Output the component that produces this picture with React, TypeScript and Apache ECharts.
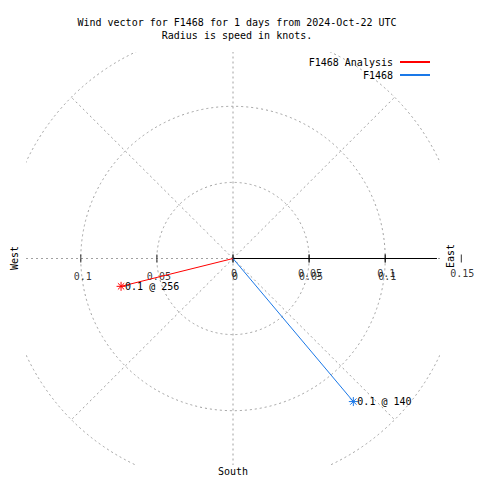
import React, { useEffect, useRef } from "react";
import * as echarts from "echarts";

// ---- data ----
const TITLE_LINES = [
  "Wind vector for F1468 for 1 days from 2024-Oct-22 UTC",
  "Radius is speed in knots.",
];
const SERIES_NAMES = ["F1468 Analysis", "F1468"];
const SERIES_COLORS = ["#ff0000", "#1a78e8"];
const SPEEDS = [0.0758, 0.123]; // knots
const BEARINGS = [256, 140]; // degrees clockwise from north
const RINGS = [0.05, 0.1, 0.15];
const SPOKES = [0, 45, 90, 135, 180, 225, 270, 315];
const GRID_TICKS = [-0.1, -0.05, 0, 0.05, 0.1];
const RADIAL_TICKS = [0, 0.05, 0.1, 0.15];
const RADIAL_AXIS_END = 0.134;
const VIEW_LIMIT = 0.136;
const COMPASS = { west: "West", east: "East", south: "South" };

const FONT = "DejaVu Sans Mono";
const GRAY = "#a0a0a0";

const rad = (d: number) => (d * Math.PI) / 180;

export default function App() {
  const ref = useRef<HTMLDivElement>(null);
  useEffect(() => {
    if (!ref.current) return;
    const chart = echarts.init(ref.current, undefined, { renderer: "svg" });

    const vectorSeries = SERIES_NAMES.map((name, i) => {
      const s = SPEEDS[i];
      const b = BEARINGS[i];
      const end = [s * Math.sin(rad(b)), s * Math.cos(rad(b))];
      return {
        name,
        type: "line",
        z: 5,
        color: SERIES_COLORS[i],
        lineStyle: { color: SERIES_COLORS[i], width: 1 },
        showSymbol: true,
        symbol:
          "path://M0,5L10,5M5,0L5,10M1.5,1.5L8.5,8.5M8.5,1.5L1.5,8.5",
        symbolSize: 9,
        itemStyle: {
          color: "none",
          borderColor: SERIES_COLORS[i],
          borderWidth: 1,
        },
        data: [
          { value: [0, 0], symbol: "none" },
          {
            value: end,
            label: {
              show: true,
              position: "right",
              distance: -3,
              formatter: `${s.toFixed(1)} @ ${b}`,
              fontFamily: FONT,
              fontSize: 10,
              color: "#000",
            },
          },
        ],
      };
    });

    const legendBase = {
      right: 50,
      align: "right",
      icon: "rect",
      itemWidth: 30,
      itemHeight: 2,
      itemGap: 0,
      padding: 0,
      textStyle: { fontFamily: FONT, fontSize: 10, color: "#000", padding: [0, 2, 0, 0] },
    };

    const option: any = {
      animation: false,
      title: {
        text: TITLE_LINES.join("\n"),
        left: 232,
        textAlign: "center",
        top: 11,
        textStyle: {
          fontFamily: FONT,
          fontSize: 10,
          fontWeight: "normal",
          lineHeight: 13,
          color: "#000",
        },
      },
      legend: [
        {
          ...legendBase,
          data: [{ name: SERIES_NAMES[0], itemStyle: { color: SERIES_COLORS[0], borderWidth: 0 } }],
          top: 57,
        },
        {
          ...legendBase,
          data: [{ name: SERIES_NAMES[1], itemStyle: { color: SERIES_COLORS[1], borderWidth: 0 } }],
          top: 70,
        },
      ],
      grid: { left: 26, top: 52, width: 414, height: 413, containLabel: false },
      xAxis: { type: "value", min: -VIEW_LIMIT, max: VIEW_LIMIT, show: false },
      yAxis: { type: "value", min: -VIEW_LIMIT, max: VIEW_LIMIT, show: false },
      graphic: [
        {
          type: "text",
          x: 14,
          y: 258,
          rotation: Math.PI / 2,
          style: {
            text: COMPASS.west,
            fontFamily: FONT,
            fontSize: 10,
            fill: "#000",
            align: "center",
            verticalAlign: "middle",
          },
        },
        {
          type: "text",
          x: 450,
          y: 256,
          rotation: Math.PI / 2,
          style: {
            text: COMPASS.east,
            fontFamily: FONT,
            fontSize: 10,
            fill: "#000",
            align: "center",
            verticalAlign: "middle",
          },
        },
        {
          type: "text",
          x: 233,
          y: 471,
          style: {
            text: COMPASS.south,
            fontFamily: FONT,
            fontSize: 10,
            fill: "#000",
            align: "center",
            verticalAlign: "middle",
          },
        },
      ],
      series: [
        {
          type: "custom",
          coordinateSystem: "cartesian2d",
          clip: true,
          silent: true,
          z: 1,
          data: RINGS.map((r) => [r, 0]),
          renderItem: (params: any, api: any) => {
            const c = api.coord([0, 0]);
            const r = api.size([api.value(0), 0])[0];
            return {
              type: "circle",
              shape: { cx: c[0], cy: c[1], r },
              style: { fill: "none", stroke: GRAY, lineWidth: 1, lineDash: [2, 3] },
            };
          },
        },
        {
          type: "custom",
          coordinateSystem: "cartesian2d",
          clip: true,
          silent: true,
          z: 1,
          data: SPOKES.map((b) => [b, 0]),
          renderItem: (params: any, api: any) => {
            const b = rad(api.value(0));
            const L = RINGS[RINGS.length - 1];
            const c = api.coord([0, 0]);
            const e = api.coord([L * Math.sin(b), L * Math.cos(b)]);
            return {
              type: "line",
              shape: { x1: c[0], y1: c[1], x2: e[0], y2: e[1] },
              style: { stroke: GRAY, lineWidth: 1, lineDash: [2, 3] },
            };
          },
        },
        {
          type: "line",
          silent: true,
          z: 3,
          symbol: "none",
          lineStyle: { color: "#000", width: 1 },
          data: [
            [0, 0],
            [RADIAL_AXIS_END, 0],
          ],
        },
        {
          type: "scatter",
          silent: true,
          clip: false,
          z: 4,
          symbol: "rect",
          symbolSize: [1, 8],
          itemStyle: { color: "#000" },
          label: {
            show: true,
            position: "bottom",
            distance: 9,
            offset: [2, 0],
            fontFamily: FONT,
            fontSize: 10,
            color: "#000",
            formatter: (p: any) => String(Math.abs(p.value[0])),
          },
          data: GRID_TICKS.map((v) => [v, 0]),
        },
        {
          type: "scatter",
          silent: true,
          clip: false,
          z: 4,
          symbol: "rect",
          symbolSize: [1, 8],
          itemStyle: { color: "#000" },
          label: {
            show: true,
            position: "bottom",
            distance: 6,
            offset: [1, 0],
            fontFamily: FONT,
            fontSize: 10,
            color: "#000",
            formatter: (p: any) => String(Math.abs(p.value[0])),
          },
          data: RADIAL_TICKS.map((v) => [v, 0]),
        },
        ...vectorSeries,
      ],
    };
    chart.setOption(option);
    return () => chart.dispose();
  }, []);
  return (
    <div
      ref={ref}
      style={{ position: "fixed", left: 0, top: 0, width: 480, height: 480, background: "#fff" }}
    />
  );
}
